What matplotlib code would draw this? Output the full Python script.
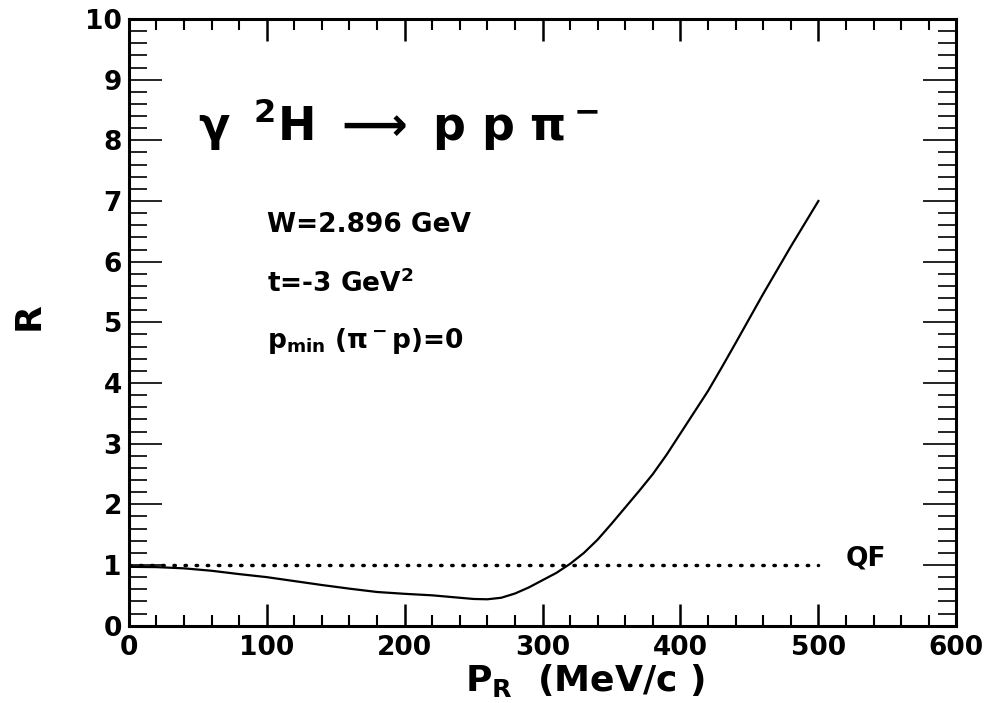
import numpy as np
import matplotlib
matplotlib.use('Agg')
import matplotlib.pyplot as plt
from matplotlib.ticker import MultipleLocator

# Curva R(P_R)
p_r = [0, 20, 40, 60, 80, 100, 120, 140, 160, 180, 200, 220, 240, 250,
       260, 270, 280, 290, 300, 310, 320, 330, 340, 350, 360, 370, 380,
       390, 400, 410, 420, 430, 440, 460, 480, 500]
r_val = [0.97, 0.965, 0.945, 0.905, 0.85, 0.80, 0.735, 0.67, 0.61, 0.555,
         0.525, 0.50, 0.46, 0.44, 0.435, 0.46, 0.53, 0.63, 0.75, 0.87,
         1.02, 1.20, 1.42, 1.68, 1.95, 2.22, 2.50, 2.82, 3.17, 3.52, 3.87,
         4.26, 4.66, 5.47, 6.25, 7.00]

# Linha QF (R = 1)
qf_x = [0, 500]
qf_y = [1, 1]

plt.rcParams['font.family'] = ['DejaVu Sans']
plt.rcParams['mathtext.fontset'] = 'custom'
plt.rcParams['mathtext.rm'] = 'DejaVu Sans:bold'
plt.rcParams['mathtext.it'] = 'DejaVu Sans:bold'
plt.rcParams['mathtext.bf'] = 'DejaVu Sans:bold'

fig = plt.figure(figsize=(9.91, 7.03), dpi=100)
ax = fig.add_axes([0.130, 0.110, 0.835, 0.863])

ax.plot(p_r, r_val, color='black', lw=1.6)
ax.plot(qf_x, qf_y, color='black', lw=2.5, linestyle=(0, (0.4, 2.8)),
        dash_capstyle='round')

ax.set_xlim(0, 600)
ax.set_ylim(0, 10)

ax.xaxis.set_major_locator(MultipleLocator(100))
ax.xaxis.set_minor_locator(MultipleLocator(20))
ax.yaxis.set_major_locator(MultipleLocator(1))
ax.yaxis.set_minor_locator(MultipleLocator(0.2))

for s in ax.spines.values():
    s.set_linewidth(2.2)

ax.tick_params(axis='x', which='major', direction='in', top=True, length=16,
               width=1.8, labelsize=19, pad=7)
ax.tick_params(axis='x', which='minor', direction='in', top=True, length=8,
               width=1.5)
ax.tick_params(axis='y', which='major', direction='in', right=True, length=24,
               width=1.2, labelsize=19, pad=5)
ax.tick_params(axis='y', which='minor', direction='in', right=True, length=13,
               width=1.2)
for lab in ax.get_xticklabels() + ax.get_yticklabels():
    lab.set_fontweight('bold')

ax.set_xlabel(r'P$_\mathregular{R}$  (MeV/c )', fontsize=26, fontweight='bold')
ax.xaxis.set_label_coords(0.551, -0.06)
ax.set_ylabel('R', fontsize=26, fontweight='bold')
ax.yaxis.set_label_coords(-0.10, 0.51)

ax.text(50, 8.0,
        r'$\mathregular{\gamma\ \,^2H\ \longrightarrow\ p\ p\ \pi^-}$',
        fontsize=33, fontweight='bold')
ax.text(100, 6.49, 'W=2.896 GeV', fontsize=19, fontweight='bold')
ax.text(100, 5.50, r't=-3 GeV$^\mathregular{2}$', fontsize=19, fontweight='bold')
ax.text(100, 4.57, r'p$_\mathregular{min}$ ($\mathregular{\pi^-}$p)=0',
        fontsize=19, fontweight='bold')
ax.text(520, 1.0, 'QF', fontsize=19, fontweight='bold')

plt.savefig('out.png', dpi=100)
